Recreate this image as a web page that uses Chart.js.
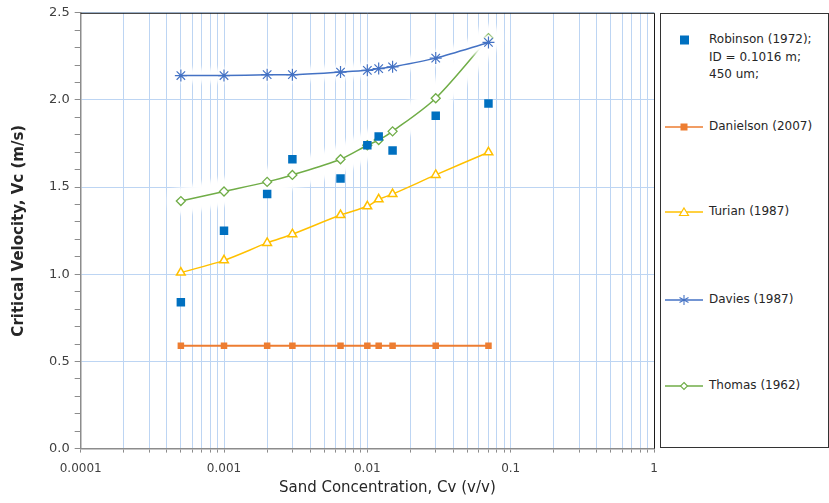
<!DOCTYPE html>
<html>
<head>
<meta charset="utf-8">
<script src="https://cdn.jsdelivr.net/npm/chart.js@4.4.1/dist/chart.umd.min.js"></script>
<style>
  html, body { margin: 0; padding: 0; background: #fff; }
  #wrap { position: relative; width: 829px; height: 503px; font-family: "DejaVu Sans", sans-serif; }
  #chart { position: absolute; left: 0; top: 0; }
  #legend {
    position: absolute; left: 660px; top: 13px; width: 167px; height: 433px;
    border: 1px solid #333; background: #fff; color: #262626; font-size: 12px;
  }
  .entry { position: absolute; left: 0; display: flex; align-items: center; }
  .entry svg { flex: none; }
  .entry span { margin-left: 4px; white-space: nowrap; }
</style>
</head>
<body>
<div id="wrap">
  <canvas id="chart" width="829" height="503"></canvas>
  <div id="legend"></div>
</div>
<script>
/* ---- data ---- */
const concentration = [0.0005, 0.001, 0.002, 0.003, 0.0065, 0.01, 0.012, 0.015, 0.03, 0.07];

const robinson  = [0.84, 1.25, 1.46, 1.66, 1.55, 1.74, 1.79, 1.71, 1.91, 1.98];
const danielson = [0.59, 0.59, 0.59, 0.59, 0.59, 0.59, 0.59, 0.59, 0.59, 0.59];
const turian    = [1.01, 1.08, 1.18, 1.23, 1.34, 1.39, 1.43, 1.46, 1.57, 1.70];
const davies    = [2.14, 2.14, 2.145, 2.145, 2.16, 2.17, 2.18, 2.19, 2.24, 2.33];
const thomas    = [1.42, 1.475, 1.53, 1.57, 1.66, 1.74, 1.77, 1.82, 2.01, 2.355];

const seriesNames = ["Robinson (1972);\nID = 0.1016 m;\n450 um;", "Danielson (2007)", "Turian (1987)", "Davies (1987)", "Thomas (1962)"];

const xMajorTicks  = [0.0001, 0.001, 0.01, 0.1, 1];
const xTickLabels  = ["0.0001", "0.001", "0.01", "0.1", "1"];
const xMinorSteps  = [1, 2, 3, 4, 5, 6, 7, 8, 9];
const yTickLabels  = ["0.0", "0.5", "1.0", "1.5", "2.0", "2.5"];

const xTitle = "Sand Concentration, Cv (v/v)";
const yTitle = "Critical Velocity, Vc (m/s)";

/* ---- colours ---- */
const C_ROB = "#0070C0", C_DAN = "#ED7D31", C_TUR = "#FFC000", C_DAV = "#4472C4", C_THO = "#70AD47";
const GRID = "#BDD5F3", AXIS = "#8C8C8C", TEXT = "#404040";

const pts = arr => arr.map((y, i) => ({ x: concentration[i], y }));

// white halo under a line, like the glow effect in the source chart
const haloPlugin = {
  id: "halo",
  beforeDatasetDraw(chart, args) {
    const ds = chart.data.datasets[args.index];
    if (!ds.halo) return;
    const ctx = chart.ctx, pts = args.meta.data;
    ctx.save();
    ctx.beginPath();
    pts.forEach((p, i) => i ? ctx.lineTo(p.x, p.y) : ctx.moveTo(p.x, p.y));
    ctx.strokeStyle = "#fff";
    ctx.lineWidth = ds.halo;
    ctx.lineJoin = "round";
    ctx.lineCap = "round";
    ctx.filter = "blur(3px)";
    ctx.stroke();
    ctx.stroke();
    ctx.stroke();
    ctx.restore();
  }
};

// black frame on top and right of the plot area, and the x-axis title
// (drawn here because in the source it sits a little right of the axis centre)
const framePlugin = {
  id: "frame",
  afterDraw(chart) {
    const { ctx, chartArea: a } = chart;
    ctx.save();
    ctx.strokeStyle = "#1a1a1a";
    ctx.lineWidth = 1;
    ctx.beginPath();
    ctx.moveTo(a.left, a.top + 0.5);
    ctx.lineTo(a.right + 0.5, a.top + 0.5);
    ctx.lineTo(a.right + 0.5, a.bottom);
    ctx.stroke();
    ctx.fillStyle = "#262626";
    ctx.font = "15px 'DejaVu Sans'";
    ctx.textAlign = "center";
    ctx.textBaseline = "middle";
    ctx.fillText(xTitle, (a.left + a.right) / 2 + 20, a.bottom + 40);
    ctx.restore();
  }
};

const isMajorY = v => Math.abs(v * 2 - Math.round(v * 2)) < 1e-6 && yTickLabels.includes(v.toFixed(1));

new Chart(document.getElementById("chart"), {
  type: "line",
  data: {
    datasets: [
      { label: seriesNames[0], data: pts(robinson), showLine: false, pointStyle: "rect",
        pointRadius: 6, pointBackgroundColor: C_ROB, pointBorderColor: C_ROB, borderColor: C_ROB, pointBorderWidth: 0 },
      { label: seriesNames[1], data: pts(danielson), borderColor: C_DAN, borderWidth: 2, pointStyle: "rect",
        pointRadius: 4.6, pointBackgroundColor: C_DAN, pointBorderColor: C_DAN, pointBorderWidth: 0, tension: 0 },
      { label: seriesNames[2], data: pts(turian), borderColor: C_TUR, borderWidth: 1.5, pointStyle: "triangle",
        pointRadius: 5, pointBackgroundColor: "#fff", pointBorderColor: C_TUR, pointBorderWidth: 1.5, tension: 0.3 },
      { label: seriesNames[3], data: pts(davies), borderColor: C_DAV, borderWidth: 1.5, pointStyle: "star",
        pointRadius: 6, pointBorderColor: C_DAV, pointBorderWidth: 1.2, tension: 0.3, halo: 9 },
      { label: seriesNames[4], data: pts(thomas), borderColor: C_THO, borderWidth: 1.5, pointStyle: "rectRot",
        pointRadius: 4.5, pointBackgroundColor: "#fff", pointBorderColor: C_THO, pointBorderWidth: 1.3, tension: 0.3, halo: 22 },
    ],
  },
  options: {
    responsive: false,
    animation: false,
    layout: { padding: { left: 10, top: 7, right: 175, bottom: 18 } },
    plugins: { legend: { display: false }, tooltip: { enabled: false } },
    scales: {
      x: {
        type: "logarithmic", min: 0.0001, max: 1,
        afterBuildTicks: axis => {
          const ticks = [];
          xMajorTicks.slice(0, -1).forEach(d => xMinorSteps.forEach(s => ticks.push({ value: +(d * s).toPrecision(6) })));
          ticks.push({ value: xMajorTicks[xMajorTicks.length - 1] });
          axis.ticks = ticks;
        },
        ticks: {
          autoSkip: false, maxRotation: 0, color: TEXT, padding: 9,
          font: { family: "DejaVu Sans", size: 12 },
          callback: v => {
            const i = xMajorTicks.findIndex(m => Math.abs(m - v) / m < 1e-6);
            return i >= 0 ? xTickLabels[i] : "";
          },
        },
        grid: { color: GRID, lineWidth: 1, tickColor: AXIS, tickLength: 4, drawOnChartArea: true },
        border: { color: AXIS, width: 1.5 },
        title: { display: false },
      },
      y: {
        min: 0, max: 2.5,
        ticks: {
          stepSize: 0.1, autoSkip: false, color: TEXT, padding: 5,
          font: { family: "DejaVu Sans", size: 13 },
          callback: v => isMajorY(v) ? v.toFixed(1) : "",
        },
        grid: {
          color: c => isMajorY(c.tick.value) ? GRID : "rgba(0,0,0,0)",
          tickColor: AXIS, tickLength: 6, lineWidth: 1,
        },
        border: { color: AXIS, width: 1.5 },
        title: { display: true, text: yTitle, color: "#262626", font: { family: "DejaVu Sans", size: 15, weight: "bold" }, padding: { top: 0, bottom: 16 } },
      },
    },
  },
  plugins: [haloPlugin, framePlugin],
});

/* ---- HTML legend, laid out like the boxed legend on the right ---- */
const legendTops = [40, 127, 212, 300, 386];
const legendIcons = [
  `<svg width="44" height="12"><rect x="19" y="1.5" width="9" height="9" fill="${C_ROB}"/></svg>`,
  `<svg width="44" height="12"><line x1="4" y1="6" x2="42" y2="6" stroke="${C_DAN}" stroke-width="1.5"/><rect x="19.5" y="2.5" width="7" height="7" fill="${C_DAN}"/></svg>`,
  `<svg width="44" height="12"><line x1="4" y1="6" x2="42" y2="6" stroke="${C_TUR}" stroke-width="1.5"/><polygon points="23,2 27.5,9.5 18.5,9.5" fill="#fff" stroke="${C_TUR}" stroke-width="1.2"/></svg>`,
  `<svg width="44" height="12"><line x1="4" y1="6" x2="42" y2="6" stroke="${C_DAV}" stroke-width="1.5"/><g stroke="${C_DAV}" stroke-width="1.1"><line x1="23" y1="1" x2="23" y2="11"/><line x1="18.5" y1="3.5" x2="27.5" y2="8.5"/><line x1="18.5" y1="8.5" x2="27.5" y2="3.5"/></g></svg>`,
  `<svg width="44" height="12"><line x1="4" y1="6" x2="42" y2="6" stroke="${C_THO}" stroke-width="1.5"/><polygon points="23,2.5 26.5,6 23,9.5 19.5,6" fill="#fff" stroke="${C_THO}" stroke-width="1.1"/></svg>`,
];
const legend = document.getElementById("legend");
seriesNames.forEach((name, i) => {
  const lines = name.split("\n");
  const row = document.createElement("div");
  row.className = "entry";
  row.style.alignItems = lines.length > 1 ? "flex-start" : "center";
  const lh = 17.5;
  const firstCenter = legendTops[i] - 14;
  row.style.top = (firstCenter - (lines.length > 1 ? lh / 2 : 9)) + "px";
  row.innerHTML = legendIcons[i] + `<span style="line-height:${lh}px">${lines.join("<br>")}</span>`;
  if (lines.length > 1) row.firstElementChild.style.marginTop = ((lh - 12) / 2) + "px";
  legend.appendChild(row);
});
</script>
</body>
</html>
